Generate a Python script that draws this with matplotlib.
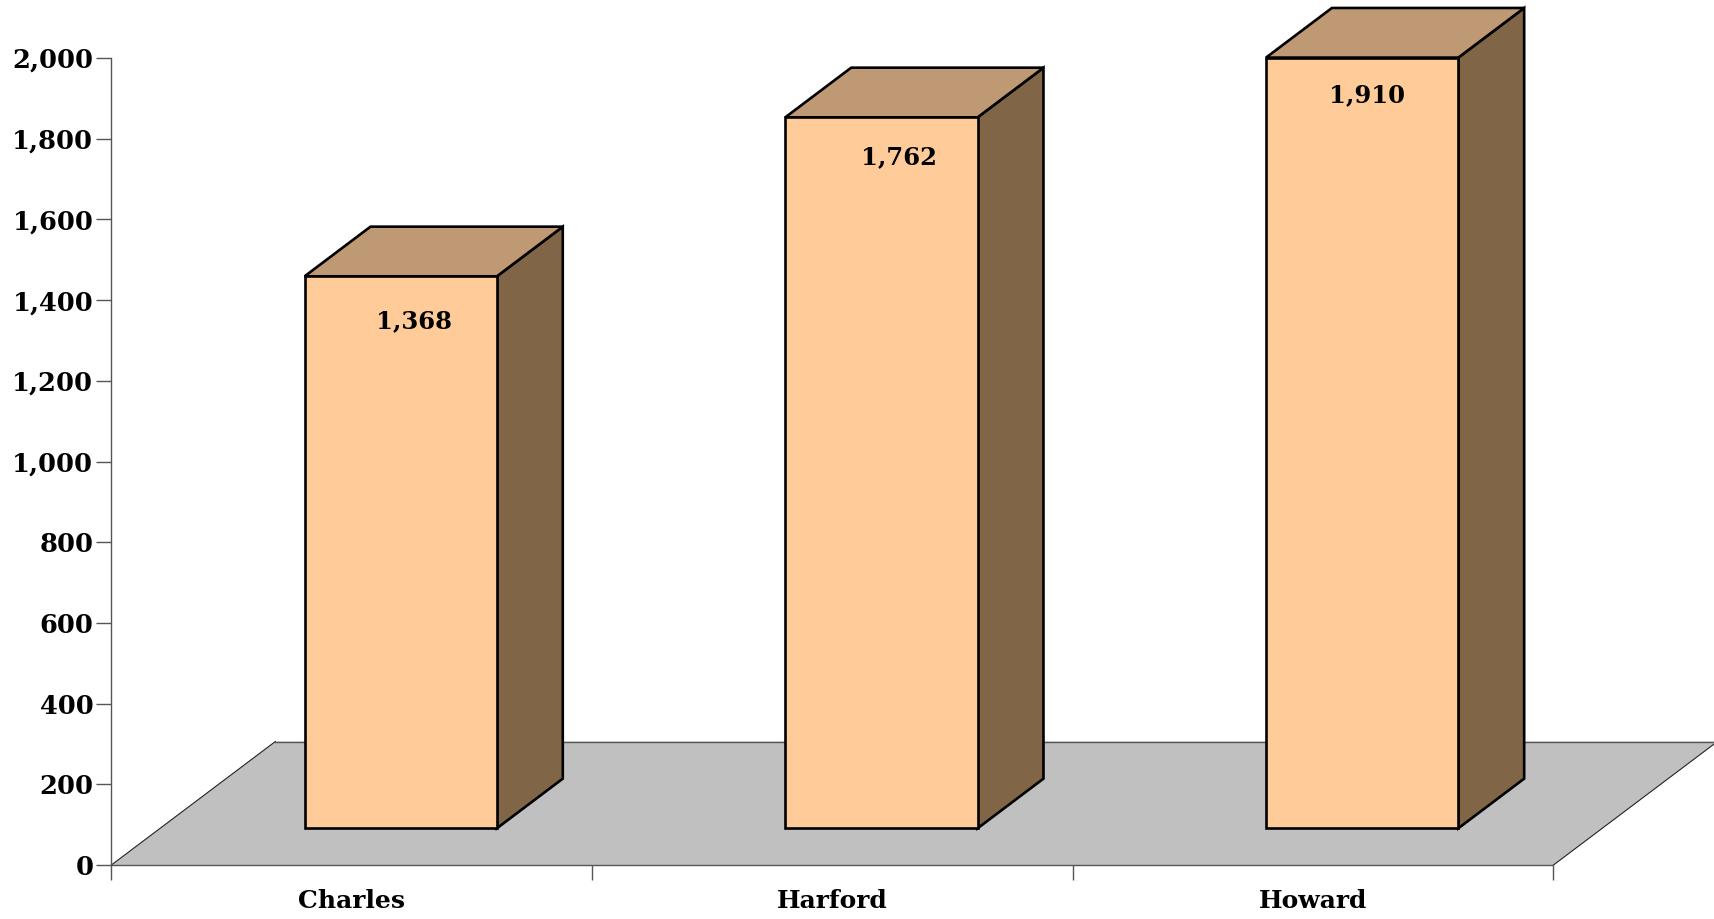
import numpy as np
import matplotlib
matplotlib.use("Agg")
import matplotlib.pyplot as plt
from matplotlib.patches import Polygon

# ================== DATA ==================
counties = ["Charles", "Harford", "Howard"]
values = [1368, 1762, 1910]
value_labels = ["1,368", "1,762", "1,910"]
y_ticks = [0, 200, 400, 600, 800, 1000, 1200, 1400, 1600, 1800, 2000]

# ================== STYLE ==================
W, H = 1715, 919
FONT = "DejaVu Serif"
FRONT = "#FFCC99"
TOP = "#BF9973"
SIDE = "#806647"
FLOOR = "#C0C0C0"
AXIS = "#555555"

bar_left = 0.402
bar_width = 0.40
base_y = 91       # bar base sits this far up the floor
depth_x = 0.137   # 3d offset of bars
depth_y = 123
floor_x = 0.341   # 3d offset of floor
floor_y = 306
label_dx = [0.228, 0.236, 0.211]
label_dy = [112, 100, 94]

fig = plt.figure(figsize=(W / 100, H / 100), dpi=100)
fig.patch.set_facecolor("white")
ax = fig.add_axes([111.4 / W, 1 - 865 / H, (1553.5 - 111.4) / W, (865 - 58) / H])
ax.set_xlim(0, 3)
ax.set_ylim(0, 2000)
ax.patch.set_visible(False)

for s in ["top", "right"]:
    ax.spines[s].set_visible(False)
for s in ["left", "bottom"]:
    ax.spines[s].set_color(AXIS)
    ax.spines[s].set_linewidth(1.0)

# floor
ax.add_patch(Polygon(
    [(0, 0), (3, 0), (3 + floor_x, floor_y), (floor_x, floor_y)],
    closed=True, fc=FLOOR, ec="none", clip_on=False, zorder=1
))
ax.plot([0, floor_x], [0, floor_y], color="#222222", lw=0.8, clip_on=False, zorder=1.5)
ax.plot([3, 3 + floor_x], [0, floor_y], color="#222222", lw=0.8, clip_on=False, zorder=1.5)
ax.plot([floor_x, 3 + floor_x], [floor_y, floor_y], color=AXIS, lw=1.0, clip_on=False, zorder=1.5)

# bars
for i, v in enumerate(values):
    x0 = i + bar_left
    x1 = x0 + bar_width
    y0 = base_y
    y1 = base_y + v
    style = dict(closed=True, ec="black", lw=1.9, joinstyle="miter", clip_on=False, zorder=3)
    ax.add_patch(Polygon(
        [(x1, y0), (x1 + depth_x, y0 + depth_y), (x1 + depth_x, y1 + depth_y), (x1, y1)],
        fc=SIDE, **style
    ))
    ax.add_patch(Polygon(
        [(x0, y1), (x1, y1), (x1 + depth_x, y1 + depth_y), (x0 + depth_x, y1 + depth_y)],
        fc=TOP, **style
    ))
    ax.add_patch(Polygon(
        [(x0, y0), (x1, y0), (x1, y1), (x0, y1)],
        fc=FRONT, **style
    ))
    ax.text(
        x0 + label_dx[i], y1 - label_dy[i], value_labels[i],
        ha="center", va="center", fontsize=17.5, fontweight="bold",
        family=FONT, color="black", zorder=4
    )

# axes ticks
ax.set_yticks(y_ticks)
ax.set_yticklabels([f"{t:,}" for t in y_ticks], fontsize=18.5, fontweight="bold", family=FONT)
ax.tick_params(axis="y", length=11, width=1.0, color=AXIS, pad=2, labelcolor="black")

ax.set_xticks([0, 1, 2, 3])
ax.set_xticklabels([])
ax.tick_params(axis="x", which="major", length=11, width=1.0, color=AXIS)
ax.set_xticks([0.5, 1.5, 2.5], minor=True)
ax.set_xticklabels(counties, minor=True, fontsize=18, fontweight="bold", family=FONT)
ax.tick_params(axis="x", which="minor", length=0, pad=17, labelcolor="black")

fig.savefig("out.png", dpi=100, facecolor="white")
